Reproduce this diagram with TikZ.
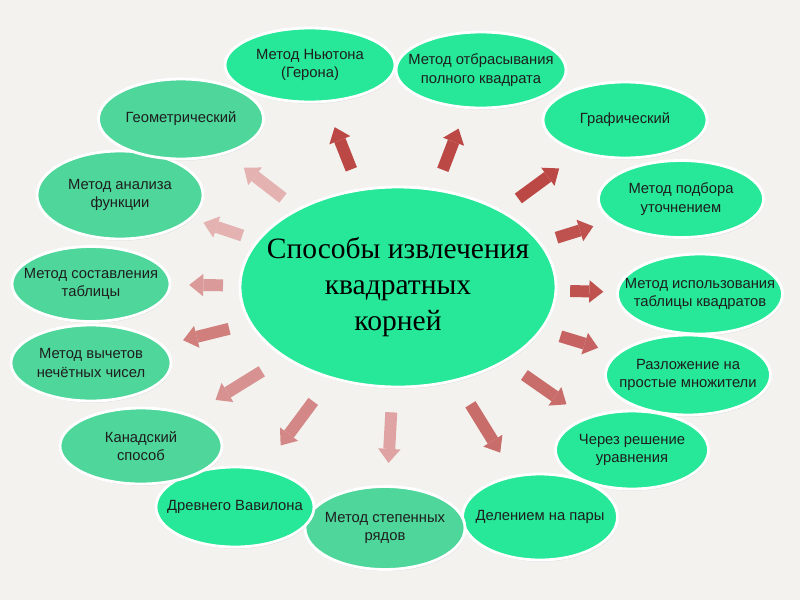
\documentclass[tikz,border=0pt]{standalone}
\usepackage{fontspec}
\setmainfont{Liberation Sans}
\newfontfamily\titlefont{Liberation Serif}
\usetikzlibrary{shapes.geometric,calc,arrows.meta,shadows}

\definecolor{ovalgreen}{RGB}{38,232,152}
\definecolor{ovalpale}{RGB}{78,214,155}
\definecolor{arrowred}{RGB}{188,72,70}
\definecolor{labelgray}{RGB}{30,30,30}
\definecolor{paper}{RGB}{243,242,238}

\tikzset{
	oval/.style={ellipse, draw=white, line width=2pt, fill=ovalgreen, inner sep=0pt,
		drop shadow={opacity=0.2, shadow xshift=0.6pt, shadow yshift=-1.2pt}},
	ovalsize/.style 2 args={minimum width=#1*0.025cm, minimum height=#2*0.025cm},
	every label/.style={align=center, text=labelgray, font=\fontsize{10.5}{13}\selectfont},
	ray/.style={line width=8.5pt, -{Triangle[width=16pt, length=10pt, line width=0pt]}},
}

\begin{document}
\begin{tikzpicture}[x=0.025cm, y=-0.025cm]
	\fill[paper] (0,0) rectangle (800,600);
	\useasboundingbox (0,0) rectangle (800,600);
	
	\node[oval, ovalsize={316}{200}, label={[font=\titlefont\fontsize{21}{25.6}\selectfont, text=black]center:Способы извлечения\\квадратных\\корней}] (root) at (398,287) {};
	
	\node[oval, ovalsize={170}{74}, label=center:{Метод Ньютона\\(Герона)}] (newton) at (310,65) {};
	\node[oval, ovalsize={170}{76}, label=center:{Метод отбрасывания\\полного квадрата}] (discard) at (481,70) {};
	\node[oval, ovalsize={164}{76}, label=center:{Графический}] (graph) at (625,120) {};
	\node[oval, ovalsize={165}{77}, label=center:{Метод подбора\\уточнением}] (select) at (681,199) {};
	\node[oval, ovalsize={165}{80}, label=center:{Метод использования\\таблицы квадратов}] (tablesq) at (700,294) {};
	\node[oval, ovalsize={165}{80}, label=center:{Разложение на\\простые множители}] (factor) at (688,375) {};
	\node[oval, ovalsize={153}{78}, label=center:{Через решение\\уравнения}] (equation) at (632,450) {};
	\node[oval, ovalsize={155}{86}, label=center:{Делением на пары}] (pairs) at (540,517) {};
	\node[oval, fill=ovalpale, ovalsize={160}{83}, label=center:{Метод степенных\\рядов}] (series) at (385,528) {};
	\node[oval, ovalsize={158}{80}, label=center:{Древнего Вавилона}] (babylon) at (235,507) {};
	\node[oval, fill=ovalpale, ovalsize={162}{76}, label=center:{Канадский\\способ}] (canada) at (141,446) {};
	\node[oval, fill=ovalpale, ovalsize={160}{76}, label=center:{Метод вычетов\\нечётных чисел}] (oddsum) at (91,363) {};
	\node[oval, fill=ovalpale, ovalsize={158}{75}, label=center:{Метод составления\\таблицы}] (maketable) at (91,284) {};
	\node[oval, fill=ovalpale, ovalsize={166}{88}, label=center:{Метод анализа\\функции}] (analysis) at (120,195) {};
	\node[oval, fill=ovalpale, ovalsize={165}{80}, label=center:{Геометрический}] (geometry) at (181,119) {};
	
	\draw[ray, arrowred]           ($(root)!0.53!(newton)$)    -- ($(root)!0.72!(newton)$);
	\draw[ray, arrowred]           ($(root)!0.54!(discard)$)   -- ($(root)!0.73!(discard)$);
	\draw[ray, arrowred]           ($(root)!0.53!(graph)$)     -- ($(root)!0.71!(graph)$);
	\draw[ray, arrowred!95!white]  ($(root)!0.56!(select)$)    -- ($(root)!0.69!(select)$);
	\draw[ray, arrowred!95!white]  ($(root)!0.57!(tablesq)$)   -- ($(root)!0.68!(tablesq)$);
	\draw[ray, arrowred!85!white]  ($(root)!0.56!(factor)$)    -- ($(root)!0.69!(factor)$);
	\draw[ray, arrowred!80!white]  ($(root)!0.54!(equation)$)  -- ($(root)!0.72!(equation)$);
	\draw[ray, arrowred!80!white]  ($(root)!0.51!(pairs)$)     -- ($(root)!0.72!(pairs)$);
	\draw[ray, arrowred!50!white]  ($(root)!0.52!(series)$)    -- ($(root)!0.73!(series)$);
	\draw[ray, arrowred!65!white]  ($(root)!0.52!(babylon)$)   -- ($(root)!0.72!(babylon)$);
	\draw[ray, arrowred!60!white]  ($(root)!0.53!(canada)$)    -- ($(root)!0.71!(canada)$);
	\draw[ray, arrowred!70!white]  ($(root)!0.55!(oddsum)$)    -- ($(root)!0.70!(oddsum)$);
	\draw[ray, arrowred!55!white]  ($(root)!0.57!(maketable)$) -- ($(root)!0.68!(maketable)$);
	\draw[ray, arrowred!42!white]  ($(root)!0.56!(analysis)$)  -- ($(root)!0.70!(analysis)$);
	\draw[ray, arrowred!42!white]  ($(root)!0.53!(geometry)$)  -- ($(root)!0.71!(geometry)$);
\end{tikzpicture}
\end{document}
